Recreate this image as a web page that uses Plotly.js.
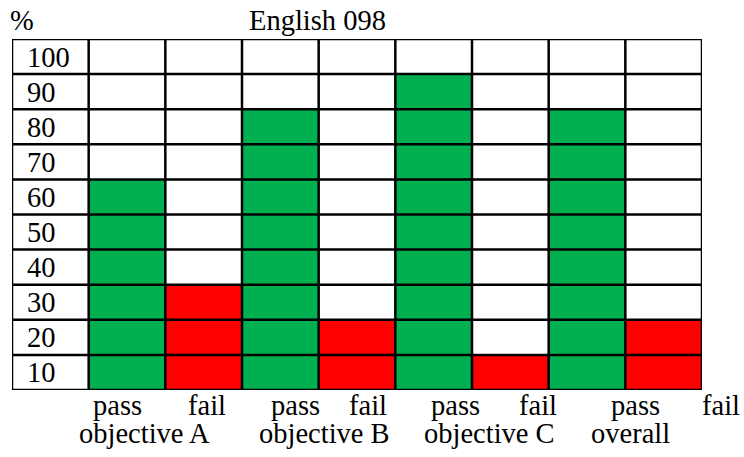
<!DOCTYPE html>
<html>
<head>
<meta charset="utf-8">
<script src="https://cdn.plot.ly/plotly-3.0.1.min.js"></script>
<style>html,body{margin:0;padding:0;background:#fff;}#chart{width:744px;height:457px;}</style>
</head>
<body>
<div id="chart"></div>
<script>
// ---- data ----
var groups = ['objective A', 'objective B', 'objective C', 'overall'];
var outcomes = ['pass', 'fail'];
var passValues = [60, 80, 90, 80];
var failValues = [30, 20, 10, 20];
var yTickLabels = ['10', '20', '30', '40', '50', '60', '70', '80', '90', '100'];
var chartTitle = 'English 098';
var unitLabel = '%';

// ---- layout helpers (positions / styles, not data) ----
var W = 744, H = 457;
var plotL = 12, plotR = 702, plotT = 39, plotB = 390;
var FONT = 'Liberation Serif, Times New Roman, serif';
var FS = 28.5;
var GREEN = '#00B050', RED = '#FF0000';
// pixel centers of the outcome labels and group labels in the reference
var outcomeLabelPx = [117, 207, 295, 368, 456, 537.5, 635, 721];
var groupLabelPx = [144, 324.5, 489, 630];
function px2paper(px) { return (px - plotL) / (plotR - plotL); }

var passX = groups.map(function (g, i) { return 2 * i; });
var failX = groups.map(function (g, i) { return 2 * i + 1; });

var traces = [
  { type: 'bar', name: outcomes[0], x: passX, y: passValues, width: 1,
    marker: { color: GREEN, line: { width: 0 } }, hoverinfo: 'skip' },
  { type: 'bar', name: outcomes[1], x: failX, y: failValues, width: 1,
    marker: { color: RED, line: { width: 0 } }, hoverinfo: 'skip' }
];

var shapes = [];
var LW = 2.5;
var xMin = -1.5, xMax = 2 * groups.length - 0.5;
for (var k = 0; k <= yTickLabels.length; k++) {
  shapes.push({ type: 'line', layer: 'above', xref: 'paper', yref: 'y',
    x0: 0, x1: 1, y0: k * 10, y1: k * 10, line: { color: '#000', width: LW } });
}
for (var c = xMin; c <= xMax + 1e-9; c += 1) {
  shapes.push({ type: 'line', layer: 'above', xref: 'x', yref: 'paper',
    x0: c, x1: c, y0: 0, y1: 1, line: { color: '#000', width: LW } });
}

var annotations = [];
var labelIdx = 0;
groups.forEach(function (g, i) {
  outcomes.forEach(function (o) {
    annotations.push({ text: o, xref: 'paper', yref: 'paper',
      x: px2paper(outcomeLabelPx[labelIdx]), xanchor: 'center',
      y: 1 - (405 - plotT) / (plotB - plotT), yanchor: 'middle',
      showarrow: false, font: { family: FONT, size: FS, color: '#000' } });
    labelIdx++;
  });
  annotations.push({ text: g, xref: 'paper', yref: 'paper',
    x: px2paper(groupLabelPx[i]), xanchor: 'center',
    y: 1 - (433 - plotT) / (plotB - plotT), yanchor: 'middle',
    showarrow: false, font: { family: FONT, size: FS, color: '#000' } });
});
annotations.push({ text: unitLabel, xref: 'paper', yref: 'paper',
  x: px2paper(22), xanchor: 'center',
  y: 1 - (21 - plotT) / (plotB - plotT), yanchor: 'middle',
  showarrow: false, font: { family: FONT, size: FS, color: '#000' } });
annotations.push({ text: chartTitle, xref: 'paper', yref: 'paper',
  x: px2paper(317), xanchor: 'center',
  y: 1 - (21 - plotT) / (plotB - plotT), yanchor: 'middle',
  showarrow: false, font: { family: FONT, size: FS, color: '#000' } });

var layout = {
  width: W, height: H,
  margin: { l: plotL, r: W - plotR, t: plotT, b: H - plotB, pad: 0 },
  paper_bgcolor: '#fff', plot_bgcolor: '#fff',
  showlegend: false,
  bargap: 0,
  font: { family: FONT, size: FS, color: '#000' },
  xaxis: { range: [xMin, xMax], showgrid: false, zeroline: false,
    showticklabels: false, ticks: '', showline: false, fixedrange: true },
  yaxis: { range: [0, 100], showgrid: false, zeroline: false,
    tickvals: yTickLabels.map(function (t) { return Number(t) - 5; }),
    ticktext: yTickLabels, ticks: '', ticklabelposition: 'inside',
    ticklabelstandoff: 12, showline: false, fixedrange: true,
    tickfont: { family: FONT, size: FS, color: '#000' } },
  shapes: shapes,
  annotations: annotations
};

Plotly.newPlot('chart', traces, layout, { staticPlot: true, displayModeBar: false });
</script>
</body>
</html>
